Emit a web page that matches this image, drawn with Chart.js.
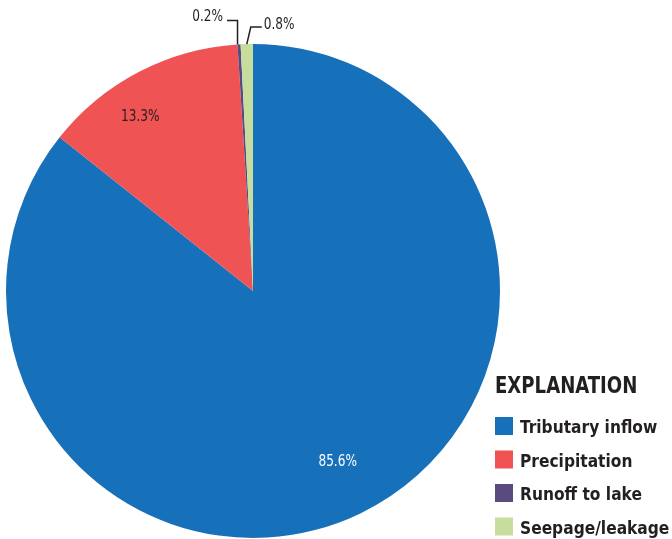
<!DOCTYPE html>
<html>
<head>
<meta charset="utf-8">
<script src="https://cdn.jsdelivr.net/npm/chart.js@4/dist/chart.umd.min.js"></script>
<style>
html,body{margin:0;padding:0;background:#fff;}
#wrap{width:672px;height:539px;position:relative;}
</style>
</head>
<body>
<div id="wrap"><canvas id="c" width="672" height="539"></canvas></div>
<script>
const categories = ['Tributary inflow', 'Precipitation', 'Runoff to lake', 'Seepage/leakage'];
const percentages = [85.6, 13.3, 0.2, 0.8];
const valueLabels = ['85.6%', '13.3%', '0.2%', '0.8%'];
const legendTitle = 'EXPLANATION';
const sliceColors = ['#1770ba', '#ef5354', '#5b4a80', '#c6dd9e'];

const FONT = '"Liberation Sans Narrow", "DejaVu Sans Condensed", "Roboto Condensed", sans-serif';
const TEXT = '#231f20';

// draw text with a horizontal condensing factor (text stays real canvas text)
function textScaled(ctx, txt, x, y, sx, align) {
  ctx.save();
  ctx.translate(x, y);
  ctx.scale(sx, 1);
  ctx.textAlign = align;
  ctx.fillText(txt, 0, 0);
  ctx.restore();
}

const labelPlugin = {
  id: 'sliceLabels',
  afterDatasetsDraw(chart) {
    const ctx = chart.ctx;
    const meta = chart.getDatasetMeta(0);
    const SX = 0.87;
    ctx.save();
    ctx.font = '15.5px ' + FONT;
    ctx.textBaseline = 'middle';
    meta.data.forEach((arc, i) => {
      const p = arc.getProps(['x', 'y', 'startAngle', 'endAngle', 'outerRadius'], true);
      const mid = (p.startAngle + p.endAngle) / 2;
      const r = p.outerRadius;
      if (i === 0) {
        const a = mid, d = r * 0.77;
        ctx.fillStyle = '#ffffff';
        textScaled(ctx, valueLabels[i], p.x + Math.cos(a) * d + 2, p.y + Math.sin(a) * d, SX, 'center');
      } else if (i === 1) {
        const a = mid - 5 * Math.PI / 180, d = r * 0.84;
        ctx.fillStyle = TEXT;
        textScaled(ctx, valueLabels[i], p.x + Math.cos(a) * d - 1, p.y + Math.sin(a) * d + 1, SX, 'center');
      } else {
        const ax = p.x + Math.cos(mid) * r;
        const ay = p.y + Math.sin(mid) * r;
        ctx.strokeStyle = TEXT;
        ctx.lineWidth = 1.5;
        ctx.fillStyle = TEXT;
        ctx.beginPath();
        if (i === 2) {
          const ky = ay - 24;
          ctx.moveTo(ax - 1.5, ay);
          ctx.lineTo(ax - 1.5, ky);
          ctx.lineTo(ax - 12, ky);
          ctx.stroke();
          textScaled(ctx, valueLabels[i], ax - 16, ky - 3, SX, 'right');
        } else {
          const kx = ax + 4, ky = ay - 17;
          ctx.moveTo(ax, ay);
          ctx.lineTo(kx, ky);
          ctx.lineTo(kx + 11, ky);
          ctx.stroke();
          textScaled(ctx, valueLabels[i], kx + 13, ky - 2, SX, 'left');
        }
      }
    });
    ctx.restore();
  }
};

const legendPlugin = {
  id: 'explanation',
  afterDraw(chart) {
    const ctx = chart.ctx;
    const x0 = 495;
    ctx.save();
    ctx.fillStyle = TEXT;
    ctx.textBaseline = 'alphabetic';
    ctx.font = 'bold 23px ' + FONT;
    textScaled(ctx, legendTitle, x0, 393, 0.875, 'left');
    ctx.font = 'bold 18px ' + FONT;
    categories.forEach((c, i) => {
      const top = 417 + i * 33.5;
      ctx.fillStyle = sliceColors[i];
      ctx.fillRect(x0, top, 18, 18);
      ctx.fillStyle = TEXT;
      textScaled(ctx, c, x0 + 25, top + 16, 0.955, 'left');
    });
    ctx.restore();
  }
};

new Chart(document.getElementById('c'), {
  type: 'pie',
  data: {
    labels: categories,
    datasets: [{
      data: percentages,
      backgroundColor: sliceColors,
      borderWidth: 0
    }]
  },
  options: {
    responsive: false,
    animation: false,
    layout: { padding: { top: 44, bottom: 1, left: 6, right: 172 } },
    plugins: {
      legend: { display: false },
      tooltip: { enabled: false }
    }
  },
  plugins: [labelPlugin, legendPlugin]
});
</script>
</body>
</html>
